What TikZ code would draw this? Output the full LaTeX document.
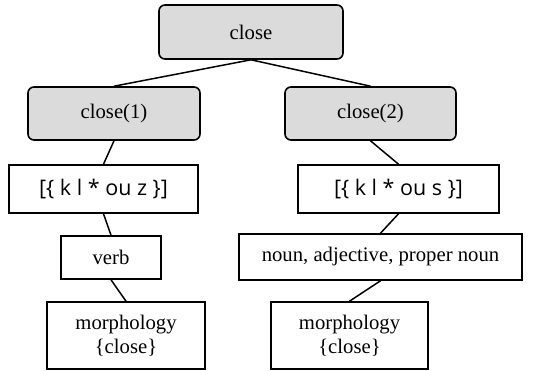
\documentclass[tikz,border=0pt]{standalone}
\usepackage{fontspec}
\setmainfont{Liberation Serif}
\newfontfamily\phonfont{Open Sans}
\begin{document}
\begin{tikzpicture}[x=1pt,y=-1pt,
  base/.style={draw=black, line width=1.6pt, inner sep=0pt, font=\fontsize{20.7}{24.5}\selectfont, align=center},
  gbox/.style={base, fill=black!14, rounded corners=6pt},
  wbox/.style={base, fill=white},
  phon/.style={wbox, font=\phonfont\fontsize{21.5}{25}\selectfont},
  link/.style={line width=1.5pt}]
\useasboundingbox (0,0) rectangle (542,371);
\node[gbox, minimum width=184pt, minimum height=54pt] (top) at (251,32) {close};
\node[gbox, minimum width=172pt, minimum height=53pt] (c1) at (114,113.5) {close(1)};
\node[gbox, minimum width=171pt, minimum height=53pt] (c2) at (370.5,113.5) {close(2)};
\node[phon, minimum width=189pt, minimum height=48pt] (kz) at (103.5,189) {[\{ k l * ou z \}]};
\node[phon, minimum width=201pt, minimum height=48pt] (ks) at (398.5,189) {[\{ k l * ou s \}]};
\node[wbox, minimum width=100pt, minimum height=43pt] (verb) at (111,257.5) {verb};
\node[wbox, minimum width=283pt, minimum height=46pt] (noun) at (380.5,257) {noun, adjective, proper noun};
\node[wbox, minimum width=158pt, minimum height=67pt] (m1) at (126,335.5) {morphology\\\{close\}};
\node[wbox, minimum width=157pt, minimum height=67pt] (m2) at (349.5,335.5) {morphology\\\{close\}};
\draw[link] (top.south) -- (c1.north);
\draw[link] (top.south) -- (c2.north);
\draw[link] (c1.south) -- (kz.north);
\draw[link] (c2.south) -- (ks.north);
\draw[link] (kz.south) -- (verb.north);
\draw[link] (verb.south) -- (m1.north);
\draw[link] (ks.south) -- (noun.north);
\draw[link] (noun.south) -- (m2.north);
\end{tikzpicture}
\end{document}
